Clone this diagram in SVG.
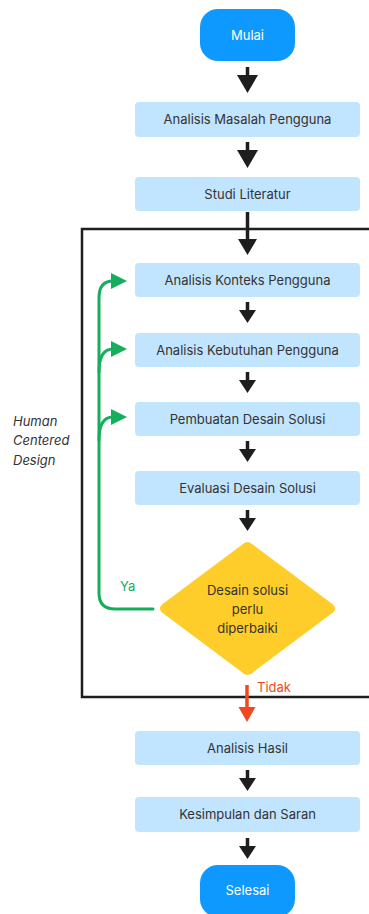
<svg xmlns="http://www.w3.org/2000/svg" width="369" height="914" viewBox="0 0 369 914">
<defs>
<style>
.box{fill:#C2E5FF}
.term{fill:#0D99FF}
.t{font-family:Inter,"Liberation Sans",sans-serif;font-size:13px;fill:#333333;text-anchor:middle}
.tw{font-family:Inter,"Liberation Sans",sans-serif;font-size:13px;fill:#ffffff;text-anchor:middle}
.lbl{font-family:Inter,"Liberation Sans",sans-serif;font-size:13px}
.blk{fill:#1e1e1e}
.sh{stroke:#1e1e1e;stroke-width:3.5;fill:none}
.g{stroke:#14AE5C;stroke-width:3;fill:none;stroke-linecap:round}
.gh{fill:#14AE5C}
</style>
</defs>
<rect width="369" height="914" fill="#ffffff"/>
<g id="frame">
<rect x="82" y="229" width="300" height="468" fill="none" stroke="#1e1e1e" stroke-width="2.5"/>
<text class="lbl" font-style="italic" fill="#333333" x="13" y="426">Human</text>
<text class="lbl" font-style="italic" fill="#333333" x="13" y="445">Centered</text>
<text class="lbl" font-style="italic" fill="#333333" x="13" y="465">Design</text>
</g>
<g id="connectors">
<path class="sh" d="M247.5 67V76"/>
<polygon class="blk" points="237,75 258,75 247.5,93"/>
<path class="sh" d="M247.5 142V151"/>
<polygon class="blk" points="237,150 258,150 247.5,168"/>
<path class="sh" d="M247.5 212V240"/>
<polygon class="blk" points="238,239 257,239 247.5,255"/>
<path class="sh" d="M247.5 302V311"/>
<polygon class="blk" points="239,310 256,310 247.5,323"/>
<path class="sh" d="M247.5 372V381"/>
<polygon class="blk" points="239,380 256,380 247.5,393"/>
<path class="sh" d="M247.5 441V450"/>
<polygon class="blk" points="239,449 256,449 247.5,462"/>
<path class="sh" d="M247.5 510V519"/>
<polygon class="blk" points="239,518 256,518 247.5,531"/>
<path class="sh" d="M247.5 770V779"/>
<polygon class="blk" points="239,778 256,778 247.5,791"/>
<path class="sh" d="M247.5 838V847"/>
<polygon class="blk" points="239,846 256,846 247.5,859"/>
<path d="M247 685V709" stroke="#F24822" stroke-width="3.5" fill="none"/>
<polygon fill="#F24822" points="238.5,707 255.5,707 247,722"/>
<text class="lbl" fill="#F24822" x="257" y="692">Tidak</text>
<path class="g" d="M153 609H115Q99 609 99 593V298Q99 281 113 281"/>
<path class="g" d="M99 372C99 357 103 349 113 349"/>
<path class="g" d="M99 440C99 425 103 417 113 417"/>
<polygon class="gh" points="111,273 127,281 111,289"/>
<polygon class="gh" points="111,341 127,349 111,357"/>
<polygon class="gh" points="111,409 127,417 111,425"/>
<text class="lbl" fill="#14AE5C" x="120" y="591">Ya</text>
</g>
<g id="mulai">
<rect class="term" x="200" y="9" width="95" height="52" rx="18"/>
<text class="tw" x="247.5" y="40">Mulai</text>
</g>
<g id="masalah">
<rect class="box" x="135" y="102" width="225" height="35" rx="4"/>
<text class="t" x="247.5" y="124">Analisis Masalah Pengguna</text>
</g>
<g id="literatur">
<rect class="box" x="135" y="177" width="225" height="34" rx="4"/>
<text class="t" x="247.5" y="198.5">Studi Literatur</text>
</g>
<g id="konteks">
<rect class="box" x="135" y="263" width="225" height="34" rx="4"/>
<text class="t" x="247.5" y="284.5">Analisis Konteks Pengguna</text>
</g>
<g id="kebutuhan">
<rect class="box" x="135" y="333" width="225" height="34" rx="4"/>
<text class="t" x="247.5" y="354.5">Analisis Kebutuhan Pengguna</text>
</g>
<g id="pembuatan">
<rect class="box" x="135" y="402" width="225" height="34" rx="4"/>
<text class="t" x="247.5" y="423.5">Pembuatan Desain Solusi</text>
</g>
<g id="evaluasi">
<rect class="box" x="135" y="471" width="225" height="34" rx="4"/>
<text class="t" x="247.5" y="492.5">Evaluasi Desain Solusi</text>
</g>
<g id="keputusan">
<path d="M243 544Q247.5 540 252 544L333 604.5Q337 608.5 333 612.5L252 673Q247.5 677 243 673L162 612.5Q158 608.5 162 604.5Z" fill="#FFCD29"/>
<text class="t" x="247.5" y="595">Desain solusi</text>
<text class="t" x="247.5" y="614">perlu</text>
<text class="t" x="247.5" y="633">diperbaiki</text>
</g>
<g id="hasil">
<rect class="box" x="135" y="731" width="225" height="34" rx="4"/>
<text class="t" x="247.5" y="752.5">Analisis Hasil</text>
</g>
<g id="kesimpulan">
<rect class="box" x="135" y="797" width="225" height="35" rx="4"/>
<text class="t" x="247.5" y="819">Kesimpulan dan Saran</text>
</g>
<g id="selesai">
<rect class="term" x="200" y="865" width="95" height="52" rx="18"/>
<text class="tw" x="247.5" y="895">Selesai</text>
</g>
</svg>
